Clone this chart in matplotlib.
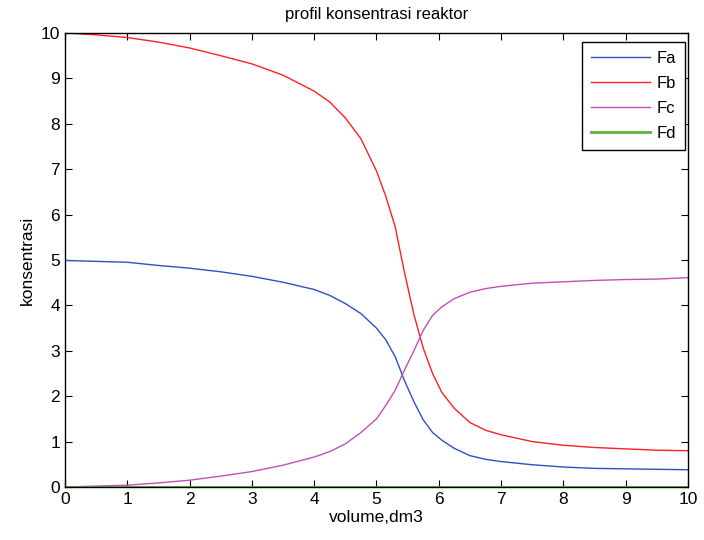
import matplotlib
matplotlib.use('Agg')
import matplotlib.pyplot as plt

# data
volume = [0, 0.5, 1, 1.5, 2, 2.5, 3, 3.5, 4, 4.25, 4.5, 4.75, 5, 5.15, 5.3, 5.45,
          5.6, 5.75, 5.9, 6.05, 6.25, 6.5, 6.75, 7, 7.5, 8, 8.5, 9, 9.5, 10]
Fa = [4.99, 4.97, 4.95, 4.88, 4.82, 4.74, 4.64, 4.51, 4.35, 4.22, 4.04, 3.82, 3.50, 3.24,
      2.87, 2.34, 1.88, 1.48, 1.20, 1.03, 0.85, 0.69, 0.61, 0.56, 0.49, 0.44, 0.41, 0.40,
      0.39, 0.38]
Fb = [10.0, 9.96, 9.9, 9.8, 9.67, 9.5, 9.32, 9.07, 8.72, 8.48, 8.13, 7.67, 6.96, 6.4,
      5.73, 4.72, 3.8, 3.06, 2.5, 2.08, 1.73, 1.42, 1.25, 1.15, 1.0, 0.92, 0.87, 0.84,
      0.81, 0.80]
Fc = [0.0, 0.02, 0.04, 0.09, 0.15, 0.24, 0.34, 0.48, 0.66, 0.78, 0.95, 1.2, 1.5, 1.8,
      2.13, 2.58, 3.0, 3.45, 3.78, 3.97, 4.15, 4.29, 4.37, 4.42, 4.49, 4.52, 4.55, 4.57,
      4.58, 4.61]
Fd = [0.0] * len(volume)

labels = ['Fa', 'Fb', 'Fc', 'Fd']
colors = ['#3050c0', '#ff2020', '#c050b8', '#60b040']

plt.rcParams['font.family'] = ['Liberation Sans', 'DejaVu Sans']

fig = plt.figure(figsize=(7.04, 5.40), dpi=100)
ax = fig.add_axes([65/704, 53/540, 623/704, 454/540])

for series, lab, col in zip([Fa, Fb, Fc, Fd], labels, colors):
    lw = 2.0 if lab == 'Fd' else 1.0
    ax.plot(volume, series, color=col, lw=lw, label=lab)

ax.set_xlim(0, 10)
ax.set_ylim(0, 10)
ax.set_xticks(range(0, 11))
ax.set_yticks(range(0, 11))
ax.tick_params(direction='in', top=True, right=True, length=5, labelsize=12.5, width=0.8)
for s in ax.spines.values():
    s.set_linewidth(1.0)

ax.set_title('profil konsentrasi reaktor', fontsize=12, pad=10)
ax.set_xlabel('volume,dm3', fontsize=12.5, labelpad=2)
ax.set_ylabel('konsentrasi', fontsize=12.5, labelpad=4)

leg = ax.legend(loc='upper right', fontsize=12, handlelength=3.5, handletextpad=0.4,
                fancybox=False, edgecolor='black', framealpha=1, borderpad=0.55,
                labelspacing=0.6, borderaxespad=0, bbox_to_anchor=(0.995, 0.98))
leg.get_frame().set_linewidth(1.0)

fig.savefig('out.png', dpi=100)
